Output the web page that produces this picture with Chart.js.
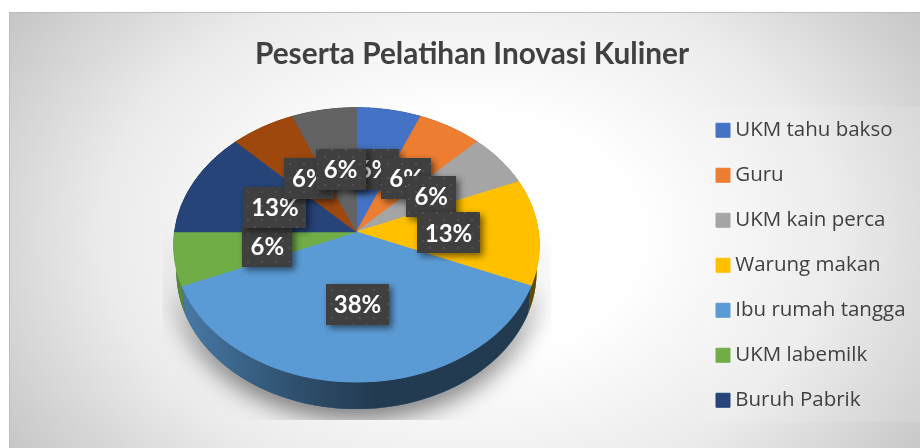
<!DOCTYPE html>
<html>
<head>
<meta charset="utf-8">
<title>Peserta Pelatihan Inovasi Kuliner</title>
<script src="https://cdn.jsdelivr.net/npm/chart.js@4"></script>
<style>
  body { margin: 0; background: #fff; overflow: hidden; }
  canvas { display: block; }
</style>
</head>
<body>
<canvas id="myPieChart" width="920" height="448"></canvas>
<script>
const chartTitle = 'Peserta Pelatihan Inovasi Kuliner';

// the last two slices have no legend entry in the picture, their names are cut off
const categories = ['UKM tahu bakso', 'Guru', 'UKM kain perca', 'Warung makan', 'Ibu rumah tangga', 'UKM labemilk', 'Buruh Pabrik', '', ''];
const participants = [1, 1, 1, 2, 6, 1, 2, 1, 1];
const sliceColors = ['#4472C4', '#ED7D31', '#A5A5A5', '#FFC000', '#5B9BD5', '#70AD47', '#264478', '#9E480E', '#636363'];

// look of the tilted disc
const tilt = 0.094;
const flatten = 0.7475;
const sideDepth = 27;
const sideNarrow = 0.985;
const labelRadius = 0.5;

// disc point (u, v in -1..1) to canvas position
function project(arc, u, v) {
    const r = arc.outerRadius;
    const w = 1 - tilt * v;
    return { x: arc.x + r * u / w, y: arc.y + r * flatten * v / w };
}

function rimPoint(arc, angle, lower) {
    const p = project(arc, Math.cos(angle), Math.sin(angle));
    if (lower) {
        p.x = arc.x + (p.x - arc.x) * sideNarrow;
        p.y += sideDepth;
    }
    return p;
}

function sidePath(ctx, arc, from, to) {
    const steps = 90;
    ctx.beginPath();
    for (let i = 0; i <= steps; i++) {
        const p = rimPoint(arc, from + (to - from) * i / steps, false);
        if (i == 0) ctx.moveTo(p.x, p.y); else ctx.lineTo(p.x, p.y);
    }
    for (let i = steps; i >= 0; i--) {
        const p = rimPoint(arc, from + (to - from) * i / steps, true);
        ctx.lineTo(p.x, p.y);
    }
    ctx.closePath();
}

const backgroundPlugin = {
    id: 'background',
    beforeDraw(chart) {
        const ctx = chart.ctx;
        ctx.save();
        ctx.fillStyle = '#bdbdbd';
        ctx.fillRect(9, 12, 911, 436);
        ctx.beginPath();
        ctx.rect(10, 13, 910, 435);
        ctx.clip();
        ctx.translate(470, 235);
        ctx.scale(1, 0.72);
        const g = ctx.createRadialGradient(0, 0, 0, 0, 0, 560);
        g.addColorStop(0, '#ffffff');
        g.addColorStop(0.3, '#ffffff');
        g.addColorStop(0.65, '#ebebeb');
        g.addColorStop(1, '#c4c4c4');
        ctx.fillStyle = g;
        ctx.fillRect(-500, -500, 1000, 1000);
        ctx.restore();
        // legend panel is a touch lighter than the background
        ctx.fillStyle = 'rgba(255,255,255,0.1)';
        ctx.fillRect(703, 106, 217, 316);
    }
};

const discPlugin = {
    id: 'disc',
    beforeDatasetsDraw(chart) {
        const ctx = chart.ctx;
        const arcs = chart.getDatasetMeta(0).data;
        const first = arcs[0];
        const cx = first.x, cy = first.y, r = first.outerRadius;

        // soft shadow, cut off square like the picture
        ctx.save();
        ctx.beginPath();
        ctx.rect(cx - 194, cy - r, 389, r + 188);
        ctx.clip();
        ctx.shadowColor = 'rgba(0,0,0,0.6)';
        ctx.shadowBlur = 26;
        ctx.shadowOffsetY = 8;
        ctx.fillStyle = '#233c53';
        sidePath(ctx, first, 0, Math.PI);
        ctx.fill();
        ctx.restore();

        // side wall, one piece per slice
        const shade = ctx.createLinearGradient(cx - r, 0, cx + r, 0);
        shade.addColorStop(0, 'rgba(0,0,0,0.2)');
        shade.addColorStop(0.32, 'rgba(0,0,0,0.48)');
        shade.addColorStop(0.55, 'rgba(0,0,0,0.62)');
        shade.addColorStop(1, 'rgba(0,0,0,0.62)');
        arcs.forEach(function (arc, i) {
            sidePath(ctx, arc, arc.startAngle, arc.endAngle);
            ctx.fillStyle = sliceColors[i];
            ctx.fill();
            ctx.fillStyle = shade;
            ctx.fill();
        });

        // top face: row by row so the far side ends up narrower than the near side
        const H = r * flatten;
        const top = Math.floor(cy - H / (1 + tilt)) - 1;
        const bottom = Math.ceil(cy + H / (1 - tilt)) + 1;
        for (let y = top; y < bottom; y++) {
            const d = y + 0.5 - cy;
            const v = d / (H + tilt * d);
            const w = 1 - tilt * v;
            const sx = 1 / w;
            const sy = flatten / (w * w);
            ctx.save();
            ctx.beginPath();
            ctx.rect(cx - r - 10, y, 2 * r + 20, 1);
            ctx.clip();
            ctx.setTransform(sx, 0, 0, sy, cx - sx * cx, y + 0.5 - sy * (cy + r * v));
            arcs.forEach(function (arc) { arc.draw(ctx); });
            ctx.restore();
        }
        return false;
    }
};

function dotPattern(ctx) {
    const tile = document.createElement('canvas');
    tile.width = 14;
    tile.height = 14;
    const t = tile.getContext('2d');
    t.fillStyle = '#3f3f3f';
    t.fillRect(0, 0, 14, 14);
    t.fillStyle = '#505050';
    t.fillRect(2, 2, 2, 2);
    t.fillRect(9, 9, 2, 2);
    return ctx.createPattern(tile, 'repeat');
}

const labelPlugin = {
    id: 'percentLabels',
    afterDraw(chart) {
        const ctx = chart.ctx;
        const arcs = chart.getDatasetMeta(0).data;
        const total = participants.reduce((a, b) => a + b, 0);
        const pattern = dotPattern(ctx);
        ctx.font = 'bold 24px Lato';
        ctx.textAlign = 'center';
        ctx.textBaseline = 'middle';
        arcs.forEach(function (arc, i) {
            const text = Math.round(participants[i] / total * 100) + '%';
            const mid = (arc.startAngle + arc.endAngle) / 2;
            const p = project(arc, labelRadius * Math.cos(mid), labelRadius * Math.sin(mid));
            p.x += 1;
            p.y += 1;
            const w = text.length > 2 ? 63 : 50;
            const h = 41;
            ctx.save();
            ctx.shadowColor = 'rgba(0,0,0,0.55)';
            ctx.shadowBlur = 7;
            ctx.shadowOffsetX = 3;
            ctx.shadowOffsetY = 3;
            ctx.fillStyle = pattern;
            ctx.fillRect(Math.round(p.x - w / 2), Math.round(p.y - h / 2), w, h);
            ctx.restore();
            ctx.fillStyle = '#ffffff';
            ctx.fillText(text, p.x, p.y + 1);
        });
    }
};

const legendPlacePlugin = {
    id: 'legendPlace',
    afterLayout(chart) {
        const legend = chart.legend;
        const padding = legend.options.labels.padding;
        legend.left = 721 - padding;
        legend.top = 120 - padding;
        legend.bottom = chart.height;
        // pie sits further left than the title centre allows on its own
        chart.chartArea.right -= 12;
    }
};

function main() {
    const data = {
        labels: categories,
        datasets: [{
            data: participants,
            backgroundColor: sliceColors,
            borderColor: sliceColors,
            borderWidth: 1,
            radius: 182
        }]
    };

    const config = {
        type: 'pie',
        data: data,
        plugins: [backgroundPlugin, discPlugin, labelPlugin, legendPlacePlugin],
        options: {
            responsive: false,
            animation: false,
            events: [],
            layout: { padding: { left: 24, bottom: 57 } },
            plugins: {
                tooltip: { enabled: false },
                title: {
                    display: true,
                    text: chartTitle,
                    color: '#404040',
                    font: { family: 'Lato', size: 29.8, weight: 'bold' },
                    padding: { top: 37, bottom: 0 }
                },
                legend: {
                    position: 'right',
                    align: 'start',
                    labels: {
                        color: '#404040',
                        font: { family: 'Open Sans', size: 20.5 },
                        usePointStyle: true,
                        pointStyle: 'rect',
                        boxWidth: 4,
                        boxHeight: 14,
                        padding: 24.5,
                        filter: item => item.text != ''
                    }
                }
            }
        }
    };

    new Chart(document.getElementById('myPieChart'), config);
}

main();
</script>
</body>
</html>
